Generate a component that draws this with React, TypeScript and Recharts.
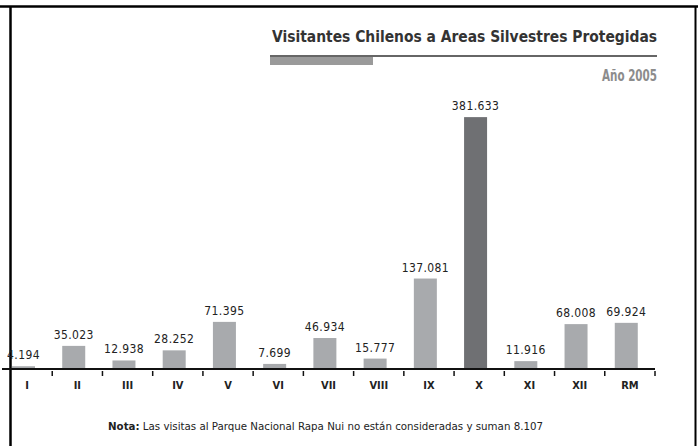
import { BarChart, Bar, XAxis, YAxis, Cell, LabelList } from "recharts";

const regions = ["I", "II", "III", "IV", "V", "VI", "VII", "VIII", "IX", "X", "XI", "XII", "RM"];
const visitors = [4194, 35023, 12938, 28252, 71395, 7699, 46934, 15777, 137081, 381633, 11916, 68008, 69924];
const highlighted = "X";

const title = "Visitantes Chilenos a Areas Silvestres Protegidas";
const subtitle = "Año 2005";
const noteLead = "Nota:";
const noteText = "Las visitas al Parque Nacional Rapa Nui no están consideradas y suman 8.107";

const data = regions.map((r, i) => ({ region: r, value: visitors[i] }));

const W = 698;
const H = 446;
const MARGIN = { top: 105, right: 43, left: 2, bottom: 47 };
const HALF_BAND = (W - MARGIN.left - MARGIN.right) / regions.length / 2;
const BAR_SHIFT = -4;
const NARROW = "'Liberation Sans Narrow', 'DejaVu Sans Condensed', 'Arial Narrow', sans-serif";

function fmt(v: number): string {
  return String(v).replace(/\B(?=(\d{3})+(?!\d))/g, ".");
}

function RegionTick(props: any) {
  const { x, y, payload } = props;
  return (
    <g>
      <line x1={x + HALF_BAND} x2={x + HALF_BAND} y1={y} y2={y + 5} stroke="#111" strokeWidth={1.5} />
      <text
        x={x}
        y={y + 18}
        textAnchor="middle"
        fontFamily={NARROW}
        fontWeight="bold"
        fontSize={11}
        fill="#222"
      >
        {payload.value}
      </text>
    </g>
  );
}

function ShiftedBar(props: any) {
  const { x, y, width, height, fill } = props;
  return <rect x={x + BAR_SHIFT} y={y} width={width} height={height} fill={fill} />;
}

function ValueLabel(props: any) {
  const { x, y, width, value } = props;
  return (
    <text
      x={x + width / 2 + BAR_SHIFT}
      y={y - 7}
      textAnchor="middle"
      fontFamily={NARROW}
      fontSize={12}
      letterSpacing={0.4}
      fill="#222"
    >
      {fmt(value)}
    </text>
  );
}

export default function App() {
  return (
    <div style={{ position: "absolute", left: 0, top: 0, width: W, height: H, background: "#fff" }}>
      <svg width={W} height={H} style={{ position: "absolute", left: 0, top: 0 }}>
        {/* frame */}
        <line x1={0} x2={W} y1={6.5} y2={6.5} stroke="#000" strokeWidth={2.5} />
        <line x1={10.5} x2={10.5} y1={6} y2={H} stroke="#000" strokeWidth={2.5} />
        <line x1={695.5} x2={695.5} y1={6} y2={H} stroke="#000" strokeWidth={2} />
        {/* heading */}
        <text
          x={272}
          y={42}
          textLength={385}
          lengthAdjust="spacingAndGlyphs"
          fontFamily={NARROW}
          fontWeight="bold"
          fontSize={15}
          fill="#333"
        >
          {title}
        </text>
        <line x1={270} x2={657} y1={56} y2={56} stroke="#333" strokeWidth={1.5} />
        <rect x={270} y={57} width={103} height={8} fill="#9a9a9a" />
        <text
          x={602}
          y={81}
          textLength={55}
          lengthAdjust="spacingAndGlyphs"
          fontFamily={NARROW}
          fontWeight="bold"
          fontSize={15}
          fill="#8c8c8c"
        >
          {subtitle}
        </text>
        {/* note */}
        <text x={108} y={430} fontFamily={NARROW} fontSize={10} fill="#222" textLength={435} lengthAdjust="spacingAndGlyphs">
          <tspan fontWeight="bold">{noteLead}</tspan>
          <tspan>{"  " + noteText}</tspan>
        </text>
      </svg>
      <div style={{ position: "absolute", left: 0, top: 0 }}>
        <BarChart width={W} height={H} data={data} margin={MARGIN}>
          <XAxis
            dataKey="region"
            height={30}
            tickSize={0}
            tickLine={false}
            axisLine={{ stroke: "#111", strokeWidth: 2 }}
            tick={<RegionTick />}
            interval={0}
          />
          <YAxis hide domain={[0, 400000]} />
          <Bar dataKey="value" barSize={23} shape={<ShiftedBar />} isAnimationActive={false}>
            {data.map((d) => (
              <Cell key={d.region} fill={d.region === highlighted ? "#6f7073" : "#a8aaad"} />
            ))}
            <LabelList dataKey="value" content={<ValueLabel />} />
          </Bar>
        </BarChart>
      </div>
    </div>
  );
}
